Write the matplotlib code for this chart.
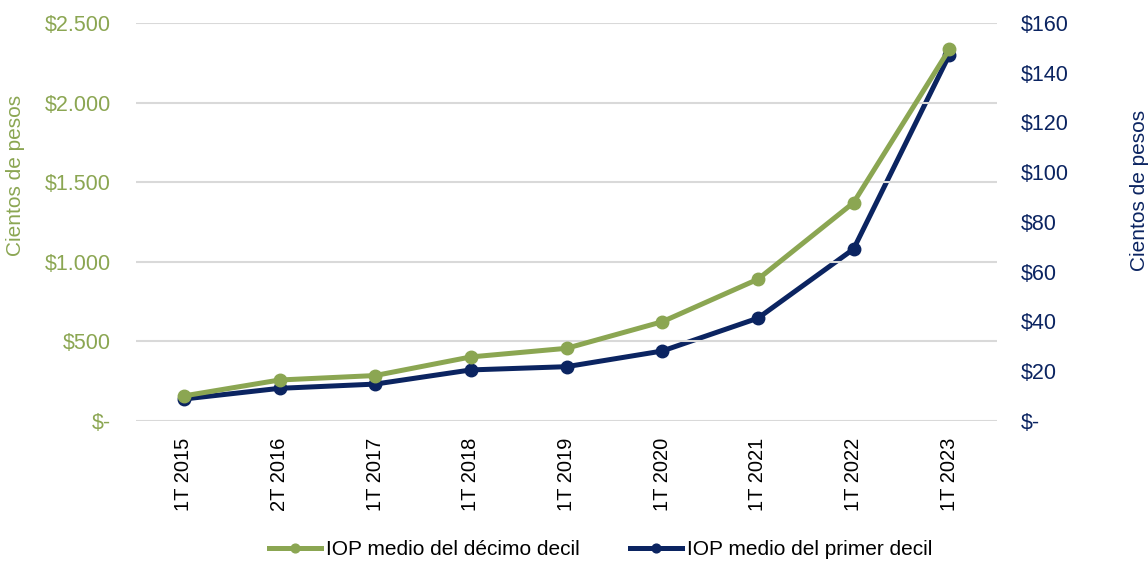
import matplotlib.pyplot as plt
from matplotlib.ticker import FuncFormatter

plt.rcParams['font.family'] = ['Liberation Sans', 'DejaVu Sans']

periodos = ["1T 2015", "2T 2016", "1T 2017", "1T 2018", "1T 2019",
            "1T 2020", "1T 2021", "1T 2022", "1T 2023"]
decimo_decil = [157, 257, 285, 402, 456, 623, 890, 1371, 2334]
primer_decil = [8.8, 13.1, 14.8, 20.5, 21.8, 28.1, 41.3, 69.1, 147.1]

verde = "#8BA652"
azul = "#0B2461"


def pesos(v, pos):
    if v == 0:
        return "$-"
    return "$" + f"{v:,.0f}".replace(",", ".")


fig = plt.figure(figsize=(11.48, 5.75), dpi=100)
ax = fig.add_axes([0.1185, 0.268, 0.75, 0.692])
ax2 = ax.twinx()

x = range(len(periodos))
l1, = ax.plot(x, decimo_decil, color=verde, lw=3.6, marker="o", ms=9,
              label="IOP medio del décimo decil", zorder=3)
l2, = ax2.plot(x, primer_decil, color=azul, lw=3.6, marker="o", ms=9,
               label="IOP medio del primer decil", zorder=3)

ax.set_xlim(-0.5, len(periodos) - 0.5)
ax.set_ylim(0, 2500)
ax2.set_ylim(0, 160)
ax.set_yticks(range(0, 2501, 500))
ax2.set_yticks(range(0, 161, 20))
ax.yaxis.set_major_formatter(FuncFormatter(pesos))
ax2.yaxis.set_major_formatter(FuncFormatter(pesos))

ax.set_xticks(list(x))
ax.set_xticklabels(periodos, rotation=90, fontsize=14.5)
ax.tick_params(axis="y", colors=verde, labelsize=15.5, length=0, pad=18)
ax.tick_params(axis="x", length=0, pad=12)
ax2.tick_params(axis="y", colors=azul, labelsize=15.5, length=0, pad=17)

ax.grid(axis="y", color="#D9D9D9", lw=1.5)
ax.set_axisbelow(True)
ax2.set_zorder(ax.get_zorder() - 1)
ax.patch.set_visible(False)
for a in (ax, ax2):
    for s in a.spines.values():
        s.set_visible(False)

ax.set_ylabel("Cientos de pesos", color=verde, fontsize=15)
ax2.set_ylabel("Cientos de pesos", color=azul, fontsize=15)
ax.yaxis.set_label_coords(-0.129, 0.618)
ax2.yaxis.set_label_coords(1.1545, 0.578)

fig.legend(handles=[l1, l2], loc="lower center", bbox_to_anchor=(0.523, -0.005),
           ncol=2, frameon=False, fontsize=15, handlelength=2.5,
           columnspacing=2.4, handletextpad=0.25, markerscale=0.7)

fig.savefig("out.png", dpi=100)
